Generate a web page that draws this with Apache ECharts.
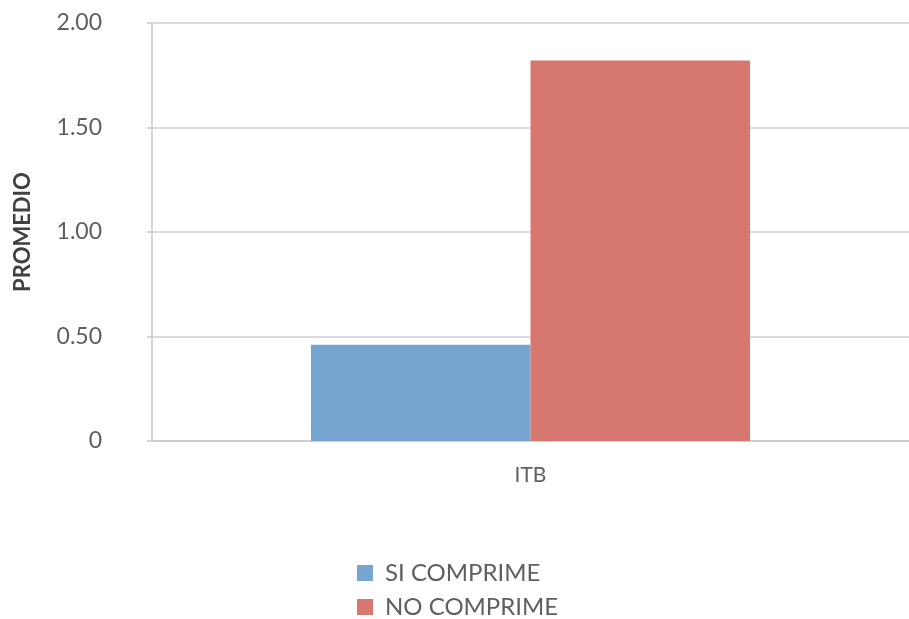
<!DOCTYPE html>
<html><head><meta charset="utf-8">
<script src="https://cdn.jsdelivr.net/npm/echarts@6/dist/echarts.min.js"></script>
<style>html,body{margin:0;padding:0;background:#fff}#c{width:909px;height:619px}</style>
</head><body><div id="c"></div>
<script>
const categories = ['ITB'];
const seriesNames = ['SI COMPRIME', 'NO COMPRIME'];
const siValues = [0.46];
const noValues = [1.82];
const yTicks = ['0', '0.50', '1.00', '1.50', '2.00'];

const chart = echarts.init(document.getElementById('c'), null, {renderer: 'canvas'});
const font = 'Lato, "Open Sans", sans-serif';
const legendBase = {
  orient: 'vertical', left: 357, padding: 0,
  itemWidth: 16, itemHeight: 16, icon: 'rect',
  textStyle: {fontFamily: font, fontSize: 24, color: '#5f5f5f', padding: [0, 0, 0, 7]}
};
chart.setOption({
  animation: false,
  backgroundColor: '#fff',
  grid: {left: 152, right: 0, top: 23, bottom: 178},
  legend: [
    Object.assign({}, legendBase, {top: 561, data: [seriesNames[0]]}),
    Object.assign({}, legendBase, {top: 595, data: [seriesNames[1]]})
  ],
  xAxis: {
    type: 'category', data: categories,
    axisLine: {lineStyle: {color: '#c8c8c8', width: 1.5}},
    axisTick: {show: false},
    axisLabel: {fontFamily: font, fontSize: 21, color: '#5f5f5f', margin: 24}
  },
  yAxis: {
    type: 'value', min: 0, max: 2, interval: 0.5,
    name: 'PROMEDIO', nameLocation: 'middle', nameGap: 118, nameRotate: 90,
    nameTextStyle: {fontFamily: font, fontSize: 22, fontWeight: 'bold', color: '#404040'},
    axisLine: {show: true, lineStyle: {color: '#c8c8c8', width: 1.5}},
    axisTick: {show: true, length: 5, lineStyle: {color: '#c8c8c8', width: 1.5}},
    splitLine: {lineStyle: {color: '#d0d0d0', width: 1.5}},
    axisLabel: {fontFamily: font, fontSize: 23, color: '#5f5f5f', margin: 50,
      formatter: v => yTicks[Math.round(v / 0.5)]}
  },
  series: [
    {name: seriesNames[0], type: 'bar', data: siValues, barGap: '0%', barCategoryGap: '42%',
     itemStyle: {color: '#75a5d0'}},
    {name: seriesNames[1], type: 'bar', data: noValues, barGap: '0%', barCategoryGap: '42%',
     itemStyle: {color: '#d67870'}}
  ]
});
</script></body></html>
